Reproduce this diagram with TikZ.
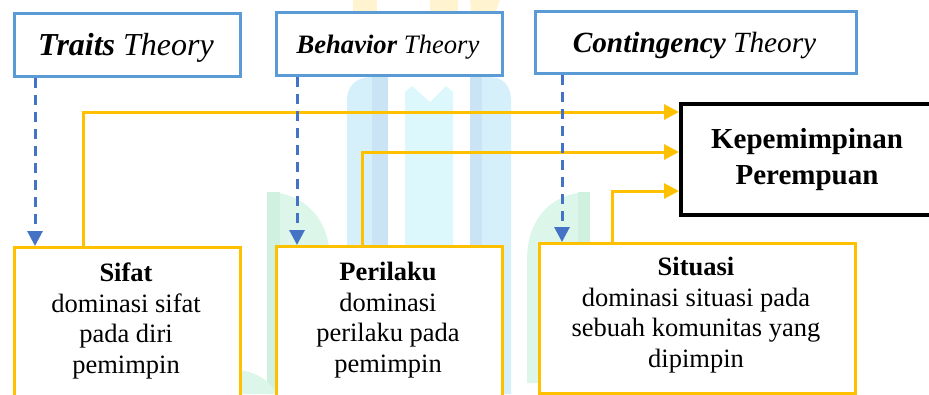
\documentclass[tikz,border=0pt]{standalone}
\usepackage{fontspec}
\setmainfont{Liberation Serif}
\usetikzlibrary{arrows.meta}
\definecolor{theoryblue}{HTML}{5B9BD5}
\definecolor{dashblue}{HTML}{4472C4}
\definecolor{linkyellow}{HTML}{FFC000}
\definecolor{pillar}{HTML}{D6F0FB}
\definecolor{pillarside}{HTML}{CAE4F6}
\definecolor{pillarmid}{HTML}{DDF8FC}
\definecolor{leaf}{HTML}{DCF7E9}
\definecolor{leafside}{HTML}{D0F0E0}
\definecolor{crown}{HTML}{FFF3D0}

\begin{document}
\begin{tikzpicture}[x=1pt,y=-1pt,
  theorybox/.style={draw=theoryblue,line width=3pt,fill=white,inner sep=0pt},
  factorbox/.style={draw=linkyellow,line width=3pt,fill=white,inner sep=0pt},
  goalbox/.style={draw=black,line width=4pt,fill=white,inner sep=0pt},
  theorytext/.style={inner sep=0pt,anchor=base},
  bodytext/.style={inner sep=0pt,anchor=base,align=center,
    font=\fontsize{26.5}{30.5}\selectfont},
  link/.style={draw=linkyellow,line width=3pt,
    -{Triangle[length=15pt,width=15pt]}},
  influence/.style={draw=dashblue,line width=3pt,dash pattern=on 10pt off 7pt,
    -{Triangle[length=15pt,width=15pt]}}]

\useasboundingbox (0,0) rectangle (929,394);

% faint emblem in the background
\fill[crown] (353,0) rectangle (377,38);
\fill[crown] (430,0) rectangle (458,14);
\fill[crown] (470,0) -- (500,0) -- (490,28) -- (472,20) -- cycle;
\fill[pillar] (347,394) -- (347,100) .. controls (347,86) and (356,77) .. (372,77)
  -- (388,77) -- (388,394) -- cycle;
\fill[pillarside] (372,77) rectangle (388,394);
\fill[pillarmid] (405,394) -- (405,92) -- (412,86) -- (430,102) -- (446,86)
  -- (453,92) -- (453,394) -- cycle;
\fill[pillar] (470,77) -- (490,77) .. controls (503,77) and (511,86) .. (511,100)
  -- (511,394) -- (470,394) -- cycle;
\fill[pillarside] (470,77) rectangle (482,394);
\fill[leaf] (267,394) -- (267,192) .. controls (300,192) and (330,215) .. (330,260)
  -- (330,394) -- cycle;
\fill[leafside] (267,192) -- (280,192) -- (280,394) -- (267,394) -- cycle;
\fill[leaf] (233,394) -- (240,370) .. controls (255,372) and (270,380) .. (277,394) -- cycle;
\fill[leaf] (590,383) -- (590,192) .. controls (555,192) and (527,215) .. (527,260)
  -- (527,383) -- cycle;
\fill[leafside] (578,192) -- (590,192) -- (590,383) -- (578,383) -- cycle;

% theory boxes
\node[theorybox,anchor=north west,minimum width=226pt,minimum height=63pt]
  (traits) at (13,12) {};
\node[theorybox,anchor=north west,minimum width=226pt,minimum height=63pt]
  (behavior) at (275,11) {};
\node[theorybox,anchor=north west,minimum width=321pt,minimum height=62pt]
  (contingency) at (534,10) {};
\node[theorytext,font=\fontsize{32}{36}\selectfont] (traitsT) at (126,55)
  {\textbf{\textit{Traits}} \textit{Theory}};
\node[theorytext,font=\fontsize{26.6}{30}\selectfont] (behaviorT) at (388,53)
  {\textbf{\textit{Behavior}} \textit{Theory}};
\node[theorytext,font=\fontsize{29.3}{33}\selectfont] (contingencyT) at (694.5,52)
  {\textbf{\textit{Contingency}} \textit{Theory}};

% outcome box
\node[goalbox,anchor=north west,minimum width=262pt,minimum height=111pt]
  (kepem) at (679,102) {};
\node[inner sep=0pt,anchor=base,align=center,
  font=\bfseries\fontsize{29}{36}\selectfont] (kepemT) at (807,184)
  {Kepemimpinan\\Perempuan};

% factor boxes
\node[factorbox,anchor=north west,minimum width=226pt,minimum height=160pt]
  (sifat) at (13,246) {};
\node[factorbox,anchor=north west,minimum width=226pt,minimum height=160pt]
  (perilaku) at (275,245) {};
\node[factorbox,anchor=north west,minimum width=316pt,minimum height=150pt]
  (situasi) at (538,242) {};
\node[bodytext] (sifatT) at (126,373)
  {\textbf{Sifat}\\dominasi sifat\\pada diri\\pemimpin};
\node[bodytext] (perilakuT) at (388,372)
  {\textbf{Perilaku}\\dominasi\\perilaku pada\\pemimpin};
\node[bodytext] (situasiT) at (696,367)
  {\textbf{Situasi}\\dominasi situasi pada\\sebuah komunitas yang\\dipimpin};

% each factor feeds the outcome
\draw[link] ([xshift=70pt]sifat.north west) |- ([yshift=47.5pt]kepem.west);
\draw[link] ([xshift=87pt]perilaku.north west) |- ([yshift=7.5pt]kepem.west);
\draw[link] ([xshift=74pt]situasi.north west) |- ([yshift=-31.5pt]kepem.west);

% each theory explains a factor
\draw[influence] ([xshift=22pt]traits.south west) -- ([xshift=22pt]traits.south west |- sifat.north);
\draw[influence] ([xshift=22pt]behavior.south west) -- ([xshift=22pt]behavior.south west |- perilaku.north);
\draw[influence] ([xshift=28pt]contingency.south west) -- ([xshift=28pt]contingency.south west |- situasi.north);
\end{tikzpicture}
\end{document}
